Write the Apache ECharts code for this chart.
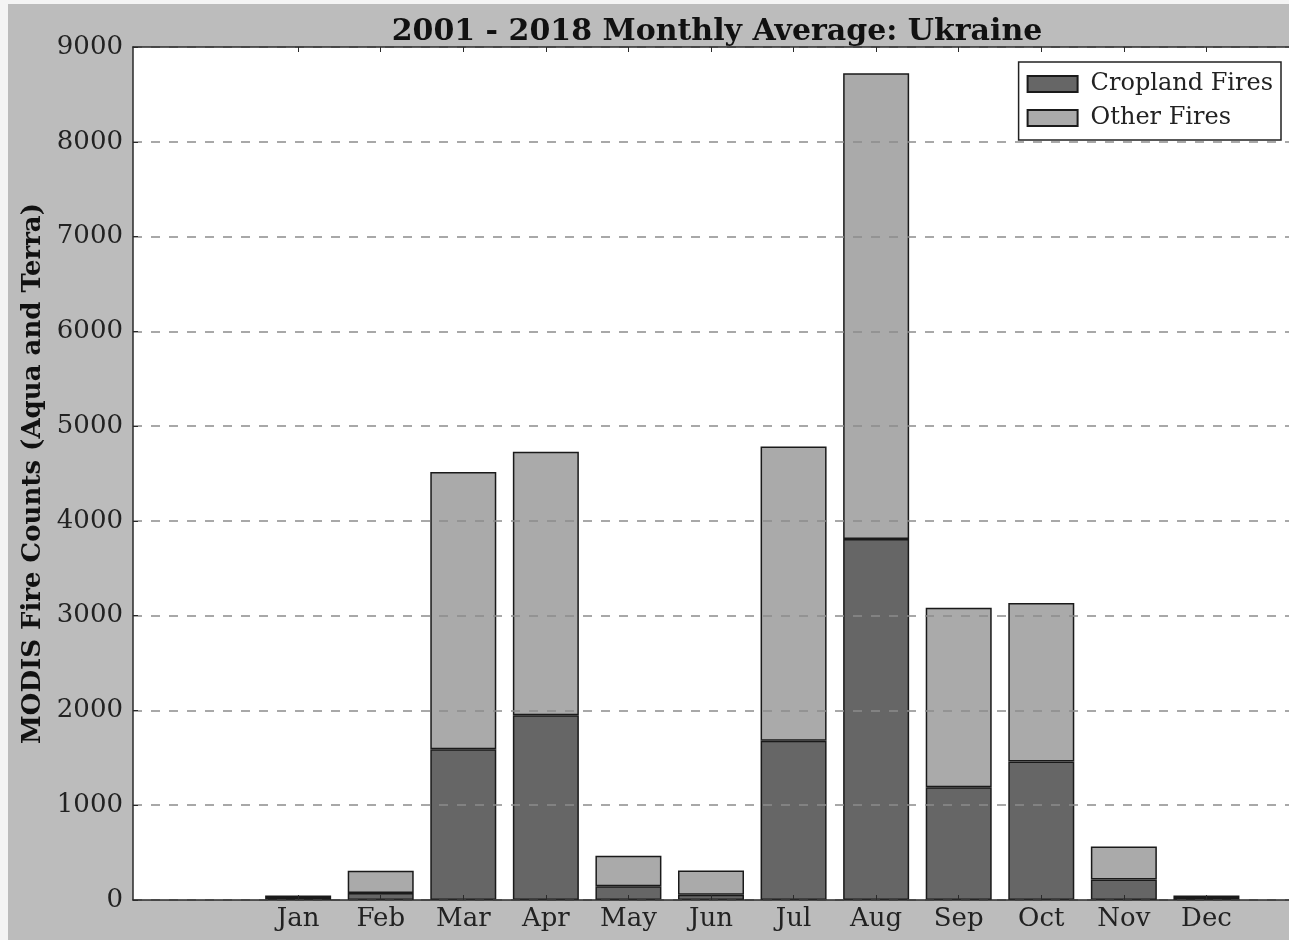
<!DOCTYPE html>
<html>
<head>
<meta charset="utf-8">
<script src="https://cdn.jsdelivr.net/npm/echarts@6/dist/echarts.min.js"></script>
<style>
  html, body { margin: 0; padding: 0; background: #f4f4f4; }
  #chart { position: absolute; left: 8px; top: 4px; width: 1281px; height: 936px; background: #bcbcbc; }
</style>
</head>
<body>
<div id="chart"></div>
<script>
// Monthly average MODIS fire counts, Ukraine 2001-2018
const months = ['Jan', 'Feb', 'Mar', 'Apr', 'May', 'Jun', 'Jul', 'Aug', 'Sep', 'Oct', 'Nov', 'Dec'];
const croplandFires = [20, 75, 1590, 1950, 145, 55, 1680, 3810, 1190, 1460, 216, 20];
const totalFires = [47, 308, 4515, 4730, 466, 311, 4785, 8722, 3084, 3134, 564, 47];
const otherFires = totalFires.map((t, i) => t - croplandFires[i]);
const yTicks = [0, 1000, 2000, 3000, 4000, 5000, 6000, 7000, 8000, 9000];

// x runs from -1 to 13 with the months at 1..12: two empty slots before Jan, one after Dec
const padLeft = 2, padRight = 1;
const slots = [].concat(Array(padLeft).fill(''), months, Array(padRight).fill(''));
const pad = arr => [].concat(Array(padLeft).fill(null), arr, Array(padRight).fill(null));
const isMonth = idx => idx >= padLeft && idx < padLeft + months.length;

const serif = 'DejaVu Serif';
const chart = echarts.init(document.getElementById('chart'), null, { renderer: 'canvas' });

const baseX = {
  type: 'category',
  data: slots,
  boundaryGap: false,
  splitLine: { show: false },
  axisLine: { show: true, onZero: false, lineStyle: { color: '#2a2a2a', width: 1.5 } },
  axisTick: { show: true, inside: true, length: 5, interval: idx => isMonth(idx), lineStyle: { color: '#2a2a2a', width: 1 } }
};

chart.setOption({
  animation: false,
  backgroundColor: '#bcbcbc',
  title: {
    text: '2001 - 2018 Monthly Average: Ukraine',
    left: 704,
    top: 8,
    textAlign: 'center',
    textStyle: { fontFamily: serif, fontWeight: 'bold', fontSize: 30, color: '#111' }
  },
  legend: {
    orient: 'vertical',
    right: 8,
    top: 58,
    icon: 'rect',
    itemWidth: 50,
    itemHeight: 16,
    itemGap: 10,
    padding: [10, 8, 10, 8],
    backgroundColor: '#ffffff',
    borderColor: '#222',
    borderWidth: 1.5,
    textStyle: { fontFamily: serif, fontSize: 24, color: '#222', padding: [0, 0, 0, 8] },
    data: ['Cropland Fires', 'Other Fires']
  },
  grid: {
    left: 125,
    top: 43,
    right: -15,
    bottom: 40,
    show: true,
    backgroundColor: '#ffffff',
    borderWidth: 0
  },
  xAxis: [
    Object.assign({}, baseX, {
      position: 'bottom',
      z: 6,
      axisLabel: {
        show: true,
        interval: idx => isMonth(idx),
        fontFamily: serif,
        fontSize: 26,
        color: '#222',
        margin: 6
      }
    }),
    Object.assign({}, baseX, {
      position: 'top',
      z: 6,
      axisLabel: { show: false }
    })
  ],
  yAxis: {
    type: 'value',
    min: 0,
    max: 9000,
    interval: 1000,
    z: 5,
    name: 'MODIS Fire Counts (Aqua and Terra)',
    nameLocation: 'middle',
    nameGap: 80,
    nameTextStyle: { fontFamily: serif, fontWeight: 'bold', fontSize: 26, color: '#111' },
    axisLine: { show: true, onZero: false, lineStyle: { color: '#2a2a2a', width: 1.5 } },
    axisTick: { show: true, inside: true, length: 5, lineStyle: { color: '#2a2a2a', width: 1 } },
    axisLabel: {
      fontFamily: serif,
      fontSize: 26,
      color: '#222',
      margin: 10,
      formatter: v => yTicks.indexOf(v) >= 0 ? String(v) : ''
    },
    splitLine: { show: true, lineStyle: { color: '#8c8c8c', width: 1.5, type: [9, 9] } }
  },
  series: [
    {
      name: 'Cropland Fires',
      type: 'bar',
      stack: 'fires',
      xAxisIndex: 0,
      barWidth: 66,
      itemStyle: { color: '#666666', borderColor: '#1a1a1a', borderWidth: 1.5 },
      data: pad(croplandFires)
    },
    {
      name: 'Other Fires',
      type: 'bar',
      stack: 'fires',
      xAxisIndex: 0,
      barWidth: 66,
      itemStyle: { color: '#aaaaaa', borderColor: '#1a1a1a', borderWidth: 1.5 },
      data: pad(otherFires)
    }
  ]
});
</script>
</body>
</html>
